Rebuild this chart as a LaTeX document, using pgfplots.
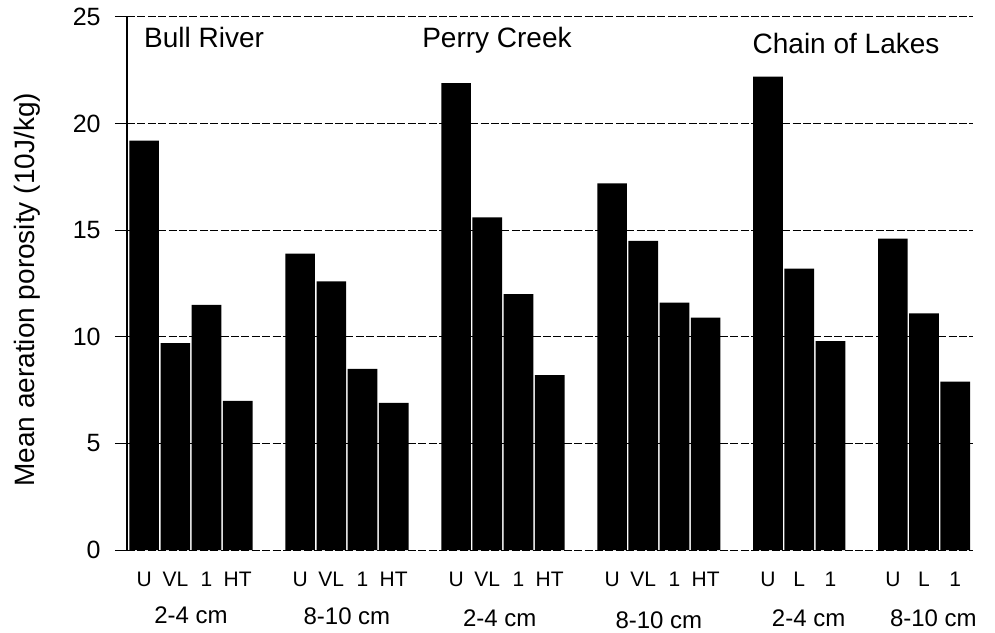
\documentclass[border=0pt]{standalone}
\usepackage{fontspec}
\setmainfont{Liberation Sans}
\usepackage{pgfplots}
\pgfplotsset{compat=1.18}
\begin{document}
\begin{tikzpicture}
\begin{axis}[
  scale only axis,
  width=423pt, height=266.5pt,
  xmin=-0.55, xmax=26.57,
  ymin=0, ymax=25,
  ytick={0,5,10,15,20,25},
  ymajorgrids,
  grid style={black, line width=0.5pt, dash pattern=on 4pt off 1.2pt},
  axis y line*=left,
  axis x line*=bottom,
  x axis line style={draw=none},
  y axis line style={black, line width=0.6pt},
  xtick style={draw=none},
  ytick style={black, line width=0.5pt},
  tick align=outside,
  major tick length=6pt,
  /pgf/number format/assume math mode=true,
  yticklabel={\pgfmathprintnumber{\tick}},
  yticklabel style={font=\fontsize{12.5}{14}\selectfont, anchor=east, inner sep=0pt, xshift=-7pt},
  xticklabel style={font=\fontsize{10.5}{12}\selectfont, anchor=north, inner sep=0pt, yshift=-5pt},
  xtick={0,1,2,3,5,6,7,8,10,11,12,13,15,16,17,18,20,21,22,24,25,26},
  xticklabels={U,VL,1,HT,U,VL,1,HT,U,VL,1,HT,U,VL,1,HT,U,L,1,U,L,1},
  clip=false,
]
\addplot[ybar, bar width=0.95, fill=black, draw=none] coordinates {
  (0,19.2) (1,9.7) (2,11.5) (3,7.0)
  (5,13.9) (6,12.6) (7,8.5) (8,6.9)
  (10,21.9) (11,15.6) (12,12.0) (13,8.2)
  (15,17.2) (16,14.5) (17,11.6) (18,10.9)
  (20,22.2) (21,13.2) (22,9.8)
  (24,14.6) (25,11.1) (26,7.9)
};
\node[anchor=base, font=\fontsize{14}{16}\selectfont] at (axis cs:1.92,23.55) {Bull River};
\node[anchor=base, font=\fontsize{14}{16}\selectfont] at (axis cs:11.31,23.59) {Perry Creek};
\node[anchor=base, font=\fontsize{14}{16}\selectfont] at (axis cs:22.5,23.31) {Chain of Lakes};
\node[anchor=north, inner sep=0pt, font=\fontsize{12}{14}\selectfont] at ([yshift=-28pt]axis cs:1.5,0) {2-4 cm};
\node[anchor=north, inner sep=0pt, font=\fontsize{12}{14}\selectfont] at ([yshift=-28.5pt]axis cs:6.5,0) {8-10 cm};
\node[anchor=north, inner sep=0pt, font=\fontsize{12}{14}\selectfont] at ([yshift=-29.5pt]axis cs:11.4,0) {2-4 cm};
\node[anchor=north, inner sep=0pt, font=\fontsize{12}{14}\selectfont] at ([yshift=-30.5pt]axis cs:16.5,0) {8-10 cm};
\node[anchor=north, inner sep=0pt, font=\fontsize{12}{14}\selectfont] at ([yshift=-29.5pt]axis cs:21.3,0) {2-4 cm};
\node[anchor=north, inner sep=0pt, font=\fontsize{12}{14}\selectfont] at ([yshift=-29.5pt]axis cs:25.3,0) {8-10 cm};
\node[rotate=90, anchor=base, font=\fontsize{14}{16}\selectfont] at ([xshift=-46pt]axis cs:-0.55,12.2) {Mean aeration porosity (10J/kg)};
\end{axis}
\pgfresetboundingbox
\path[use as bounding box] ([xshift=-63.5pt,yshift=-41pt]current axis.south west) rectangle ([xshift=11pt,yshift=8.5pt]current axis.north east);
\end{tikzpicture}
\end{document}
